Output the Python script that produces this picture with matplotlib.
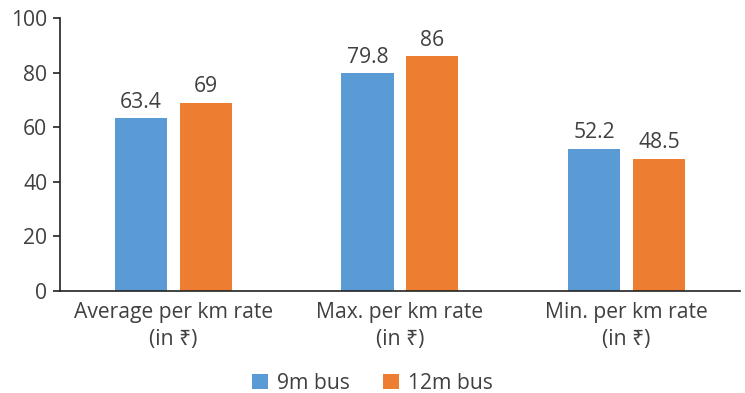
import numpy as np
import matplotlib
matplotlib.use('Agg')
import matplotlib.pyplot as plt

plt.rcParams['font.family'] = ['Open Sans', 'Noto Sans', 'DejaVu Sans']

# data
categories = ['Average per km rate\n(in ₹)', 'Max. per km rate\n(in ₹)', 'Min. per km rate\n(in ₹)']
bus_9m = [63.4, 79.8, 52.2]
bus_12m = [69, 86, 48.5]
series_names = ['9m bus', '12m bus']
y_ticks = [0, 20, 40, 60, 80, 100]

blue = '#5B9BD5'
orange = '#ED7D31'
txt = '#404040'
fs = 15.2

fig = plt.figure(figsize=(7.45, 3.93), dpi=100)
ax = fig.add_axes([0.0805, 0.2595, 0.9125, 0.6945])

x = np.arange(len(categories))
w = 0.23
b1 = ax.bar(x - 0.143, bus_9m, w, color=blue, label=series_names[0])
b2 = ax.bar(x + 0.143, bus_12m, w, color=orange, label=series_names[1])

for bars, vals in ((b1, bus_9m), (b2, bus_12m)):
    for r, v in zip(bars, vals):
        ax.text(r.get_x() + r.get_width() / 2, v + 2.0, f'{v:g}',
                ha='center', va='bottom', fontsize=fs, color=txt)

ax.set_xlim(-0.5, 2.5)
ax.set_ylim(0, 100)
ax.set_yticks(y_ticks)
ax.set_xticks(x)
ax.set_xticklabels(categories, fontsize=fs, color=txt, linespacing=1.35)
ax.tick_params(axis='x', length=0, pad=8)
ax.tick_params(axis='y', length=5, width=1.2, color='#222222', labelsize=fs,
               labelcolor=txt, pad=4)

for s in ('top', 'right'):
    ax.spines[s].set_visible(False)
for s in ('left', 'bottom'):
    ax.spines[s].set_color('#222222')
    ax.spines[s].set_linewidth(1.2)

fig.legend(loc='lower center', bbox_to_anchor=(0.5, -0.05), ncol=2, frameon=False,
           fontsize=fs, handlelength=0.75, handleheight=0.75, handletextpad=0.4,
           columnspacing=1.6, labelcolor=txt)

fig.savefig('out.png', dpi=100)
